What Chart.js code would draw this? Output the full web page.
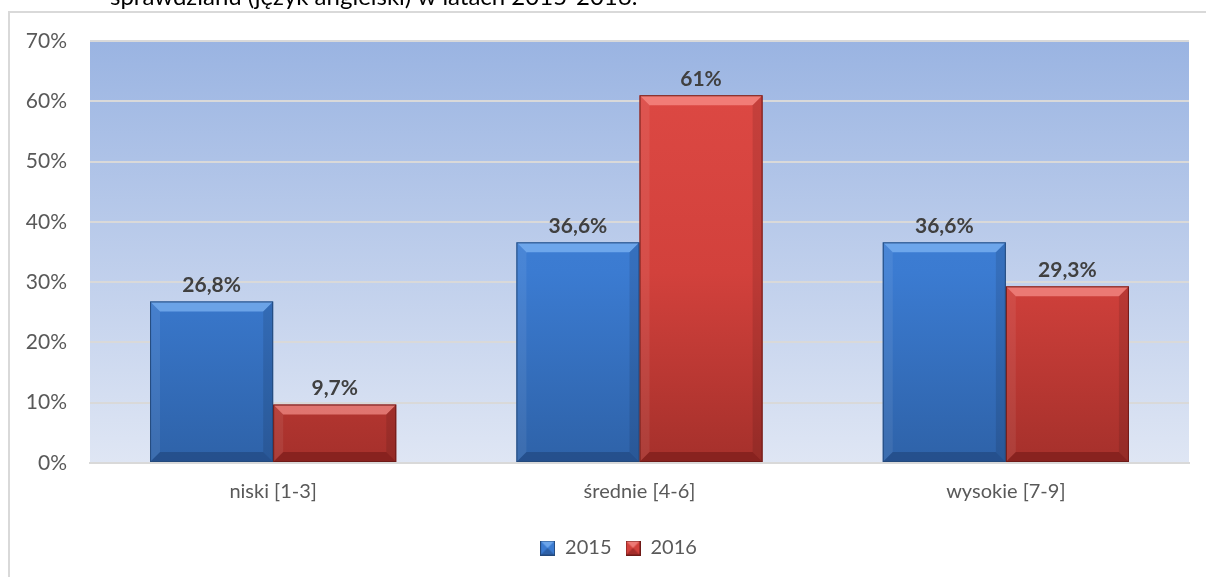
<!DOCTYPE html>
<html><head><meta charset="utf-8">
<script src="https://cdn.jsdelivr.net/npm/chart.js@4.4.1/dist/chart.umd.min.js"></script>
<style>
html,body{margin:0;padding:0;background:#fff;overflow:hidden}
#wrap{position:relative;width:1206px;height:577px}
#frame{position:absolute;left:8px;top:11px;width:1210px;height:600px;border:2px solid #d9d9d9;box-sizing:border-box}
canvas{position:absolute;left:0;top:0}
</style></head>
<body><div id="wrap"><div id="frame"></div><canvas id="c" width="1206" height="577"></canvas></div>
<script>
const titleText = "sprawdzianu (język angielski) w latach 2015-2016.";
const categories = ["niski [1-3]", "średnie [4-6]", "wysokie [7-9]"];
const seriesNames = ["2015", "2016"];
const values2015 = [26.8, 36.6, 36.6];
const values2016 = [9.7, 61, 29.3];
const yTicks = [0, 10, 20, 30, 40, 50, 60, 70];

const FONT = "Lato, 'Open Sans', sans-serif";
const palettes = [
  {top:'#4789df', mid:'#3b7bd1', bot:'#2e62a8', light:'rgba(150,200,255,0.55)', dark:'rgba(20,45,90,0.35)', edge:'#23497c'},
  {top:'#df4a45', mid:'#d2413c', bot:'#a5302b', light:'rgba(255,160,155,0.6)', dark:'rgba(80,10,10,0.35)', edge:'#6e1a17'}
];

function fmt(v){ return String(v).replace('.', ','); }

const bgPlugin = {
  id:'bg',
  afterLayout(chart){
    if (chart.legend) { chart.legend.left += 48; }
  },
  beforeDraw(chart){
    const {ctx, chartArea:a} = chart;
    ctx.save();
    const g = ctx.createLinearGradient(0,a.top,0,a.bottom);
    g.addColorStop(0,'#9ab4e2');
    g.addColorStop(1,'#dfe6f4');
    ctx.fillStyle = g;
    ctx.fillRect(a.left,a.top,a.right-a.left,a.bottom-a.top);
    ctx.fillStyle = '#000';
    ctx.font = "24px " + FONT;
    ctx.textBaseline = 'alphabetic';
    ctx.fillText(titleText, 110, 5);
    ctx.restore();
  }
};

const bevelPlugin = {
  id:'bevel',
  afterDatasetsDraw(chart){
    const ctx = chart.ctx;
    chart.data.datasets.forEach((ds, di) => {
      const meta = chart.getDatasetMeta(di);
      const p = palettes[di];
      meta.data.forEach((bar, i) => {
        const x0 = bar.x - bar.width/2, x1 = bar.x + bar.width/2;
        const y0 = bar.y, y1 = bar.base;
        const b = Math.min(10, (y1-y0)/2.5);
        ctx.save();
        ctx.fillStyle = p.light;
        ctx.beginPath(); ctx.moveTo(x0,y0); ctx.lineTo(x1,y0); ctx.lineTo(x1-b,y0+b); ctx.lineTo(x0+b,y0+b); ctx.closePath(); ctx.fill();
        ctx.fillStyle = 'rgba(255,255,255,0.07)';
        ctx.beginPath(); ctx.moveTo(x0,y0); ctx.lineTo(x0+b,y0+b); ctx.lineTo(x0+b,y1-b); ctx.lineTo(x0,y1); ctx.closePath(); ctx.fill();
        ctx.fillStyle = 'rgba(0,0,0,0.10)';
        ctx.beginPath(); ctx.moveTo(x1,y0); ctx.lineTo(x1-b,y0+b); ctx.lineTo(x1-b,y1-b); ctx.lineTo(x1,y1); ctx.closePath(); ctx.fill();
        ctx.fillStyle = p.dark;
        ctx.beginPath(); ctx.moveTo(x0,y1); ctx.lineTo(x1,y1); ctx.lineTo(x1-b,y1-b); ctx.lineTo(x0+b,y1-b); ctx.closePath(); ctx.fill();
        ctx.strokeStyle = p.edge; ctx.lineWidth = 1;
        ctx.strokeRect(x0+0.5, y0+0.5, x1-x0-1, y1-y0-1);
        ctx.fillStyle = '#404040';
        ctx.font = "bold 21px " + FONT;
        ctx.textAlign = 'center';
        ctx.textBaseline = 'bottom';
        ctx.fillText(fmt(ds.data[i]) + '%', bar.x, y0 - 6);
        ctx.restore();
      });
    });
  }
};

function barFill(di){
  return (c) => {
    const a = c.chart.chartArea;
    if(!a) return palettes[di].mid;
    const p = palettes[di];
    const g = c.chart.ctx.createLinearGradient(0,a.top,0,a.bottom);
    g.addColorStop(0,p.top); g.addColorStop(0.55,p.mid); g.addColorStop(1,p.bot);
    return g;
  };
}

function legendIcon(di){
  const cv = document.createElement('canvas');
  cv.width = 15; cv.height = 15;
  const x = cv.getContext('2d');
  const p = palettes[di];
  x.fillStyle = p.mid; x.fillRect(0,0,15,15);
  x.fillStyle = p.light; x.beginPath(); x.moveTo(0,0); x.lineTo(15,0); x.lineTo(7.5,7.5); x.closePath(); x.fill();
  x.fillStyle = p.dark; x.beginPath(); x.moveTo(0,15); x.lineTo(15,15); x.lineTo(7.5,7.5); x.closePath(); x.fill();
  x.strokeStyle = p.edge; x.strokeRect(0.5,0.5,14,14);
  return cv;
}

new Chart(document.getElementById('c'), {
  type:'bar',
  data:{
    labels: categories,
    datasets:[
      {label: seriesNames[0], data: values2015, backgroundColor: barFill(0), borderWidth:0},
      {label: seriesNames[1], data: values2016, backgroundColor: barFill(1), borderWidth:0}
    ]
  },
  options:{
    responsive:false,
    animation:false,
    devicePixelRatio:1,
    layout:{padding:{top:41, right:17, left:0, bottom:9}},
    datasets:{bar:{categoryPercentage:0.672, barPercentage:1}},
    scales:{
      x:{
        grid:{display:false, drawTicks:false},
        border:{display:true, color:'#d9d9d9', width:2},
        ticks:{color:'#595959', font:{family:FONT, size:20}, padding:17},
        afterFit(s){ s.height = 61; }
      },
      y:{
        min:0, max:70,
        afterBuildTicks(s){ s.ticks = yTicks.map(v => ({value:v})); },
        grid:{color:'#d9d9d9', lineWidth:2, drawTicks:false},
        border:{display:false},
        ticks:{color:'#595959', font:{family:FONT, size:21}, padding:23, callback:v => v + '%'},
        afterFit(s){ s.width = 90; }
      }
    },
    plugins:{
      legend:{
        position:'bottom',
        labels:{
          color:'#595959', font:{family:FONT, size:20}, boxWidth:15, boxHeight:15, padding:14,
          usePointStyle:true,
          generateLabels(chart){
            return chart.data.datasets.map((d,i) => ({text:d.label, pointStyle:legendIcon(i), datasetIndex:i, fontColor:'#595959', lineWidth:0}));
          }
        }
      },
      tooltip:{enabled:false}
    }
  },
  plugins:[bgPlugin, bevelPlugin]
});
</script></body></html>
